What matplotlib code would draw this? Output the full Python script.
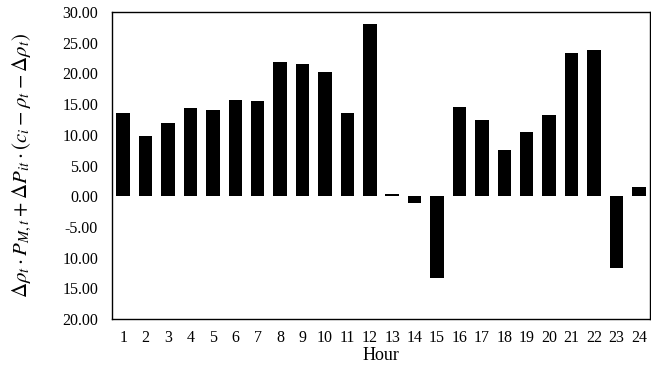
import matplotlib
matplotlib.use("Agg")
import matplotlib.pyplot as plt
import numpy as np

plt.rcParams['font.family'] = ['Liberation Serif', 'DejaVu Serif']
plt.rcParams['mathtext.fontset'] = 'stix'

# hourly values
hours = [str(h) for h in range(1, 25)]
values = [13.6, 9.75, 11.9, 14.4, 14.0, 15.6, 15.5, 21.8, 21.6, 20.2, 13.6, 28.0,
          0.4, -1.05, -13.4, 14.6, 12.4, 7.6, 10.4, 13.2, 23.4, 23.8, -11.7, 1.55]

# y tick labels as printed in the reference (minus signs lost on two-digit ones)
ytick_vals = [30, 25, 20, 15, 10, 5, 0, -5, -10, -15, -20]
ytick_labels = ['30.00', '25.00', '20.00', '15.00', '10.00', '5.00', '0.00',
                '-5.00', '10.00', '15.00', '20.00']

fig = plt.figure(figsize=(6.51, 3.66), dpi=100)
ax = fig.add_axes([112 / 651, 1 - 319 / 366, (650 - 112) / 651, (319 - 12) / 366])

x = np.arange(len(hours))
ax.bar(x, values, width=0.6, color='black')

ax.set_xlim(-0.5, len(hours) - 0.5)
ax.set_ylim(-20, 30)
ax.set_xticks(x)
ax.set_xticklabels(hours)
ax.set_yticks(ytick_vals)
ax.set_yticklabels(ytick_labels)
ax.tick_params(axis='both', length=0, labelsize=11.5)
ax.tick_params(axis='x', pad=8)
ax.tick_params(axis='y', pad=10)

for s in ax.spines.values():
    s.set_linewidth(1.0)
    s.set_color('black')

ax.set_xlabel('Hour', fontsize=13, labelpad=1)
ax.set_ylabel(r'$\Delta\rho_t\cdot P_{M,t} \:+\: \Delta P_{it}\cdot (c_i \:-\: \rho_t \:-\: \Delta\rho_t)$',
              fontsize=15, labelpad=20)

fig.savefig('out.png', dpi=100)
